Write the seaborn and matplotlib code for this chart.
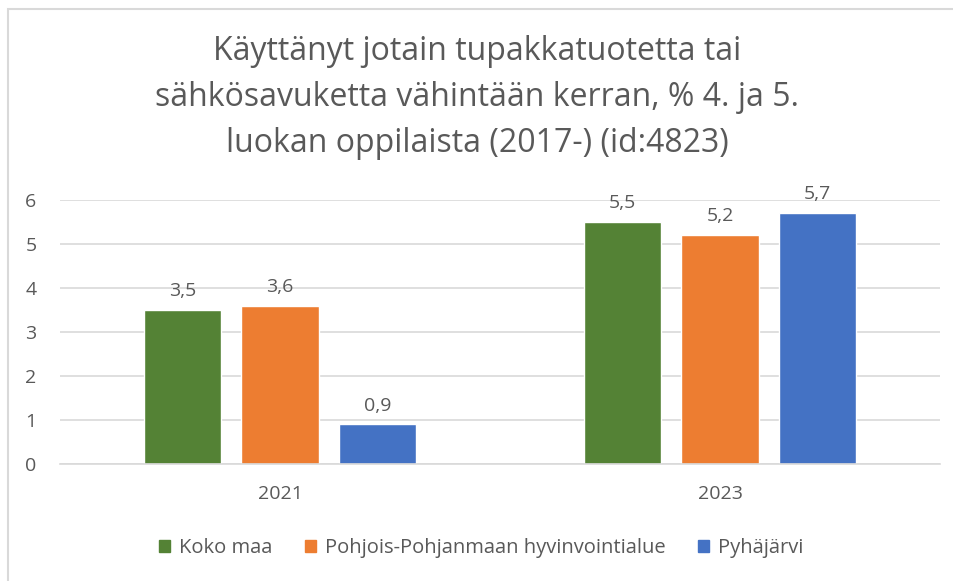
import matplotlib.pyplot as plt
import matplotlib.patches as mpatches
import pandas as pd
import seaborn as sns

# Chart data
years = ["2021", "2023"]
series = ["Koko maa", "Pohjois-Pohjanmaan hyvinvointialue", "Pyhäjärvi"]
koko_maa = [3.5, 5.5]
pohjois_pohjanmaa = [3.6, 5.2]
pyhajarvi = [0.9, 5.7]
y_ticks = [0, 1, 2, 3, 4, 5, 6]
title = "Käyttänyt jotain tupakkatuotetta tai\nsähkösavuketta vähintään kerran, % 4. ja 5.\nluokan oppilaista (2017-) (id:4823)"

colors = ["#548235", "#ED7D31", "#4472C4"]
text_color = "#595959"
grid_color = "#D9D9D9"


def main() -> None:
    """Build the grouped bar chart"""
    rows = []
    for name, values in zip(series, [koko_maa, pohjois_pohjanmaa, pyhajarvi]):
        for year, value in zip(years, values):
            rows.append({"year": year, "series": name, "value": value})
    df = pd.DataFrame(rows)

    sns.set_theme(style="white")
    plt.rcParams["font.family"] = ["Open Sans", "DejaVu Sans"]

    fig = plt.figure(figsize=(9.54, 5.81), dpi=100)
    ax = fig.add_axes([60 / 954, 1 - 464 / 581, 880 / 954, 264 / 581])

    sns.barplot(
        data=df, x="year", y="value", hue="series", order=years,
        hue_order=series, palette=colors, width=0.666, gap=0.21,
        saturation=1, ax=ax,
    )

    # Value labels with comma decimals
    for container in ax.containers:
        labels = [f"{bar.get_height():.1f}".replace(".", ",") for bar in container]
        ax.bar_label(container, labels=labels, padding=7, fontsize=14,
                     color=text_color)

    ax.set_xlim(-0.5, 1.5)
    ax.set_ylim(0, 6)
    ax.set_yticks(y_ticks)
    ax.yaxis.grid(True, color=grid_color, linewidth=1.2)
    ax.set_axisbelow(True)
    for side in ["left", "right", "top"]:
        ax.spines[side].set_visible(False)
    ax.spines["bottom"].set_color(grid_color)
    ax.spines["bottom"].set_linewidth(1.2)
    ax.tick_params(axis="y", length=0, pad=17, labelsize=14, labelcolor=text_color)
    ax.tick_params(axis="x", length=0, pad=15, labelsize=14, labelcolor=text_color)
    ax.set_xlabel("")
    ax.set_ylabel("")

    # Title
    fig.text(0.5, 1 - 98 / 581, title, ha="center", va="center",
             fontsize=23, color=text_color, linespacing=1.52)

    # Legend below the axes
    handles = [mpatches.Patch(color=c, label=s) for c, s in zip(colors, series)]
    ax.get_legend().remove()
    fig.legend(
        handles=handles, loc="center", bbox_to_anchor=(481 / 954, 1 - 548 / 581),
        ncol=3, frameon=False, fontsize=14.5, handlelength=0.55, handleheight=0.55,
        handletextpad=0.45, columnspacing=1.6, labelcolor=text_color,
    )

    # Outer chart frame (cut at the right and bottom edges)
    fig.patches.append(mpatches.Rectangle(
        (8 / 954, -0.1), 1.2, 1 - 9 / 581 + 0.1, transform=fig.transFigure,
        fill=False, edgecolor=grid_color, linewidth=1.5,
    ))

    fig.savefig("out.png", dpi=100)
    plt.close(fig)


if __name__ == "__main__":
    main()
